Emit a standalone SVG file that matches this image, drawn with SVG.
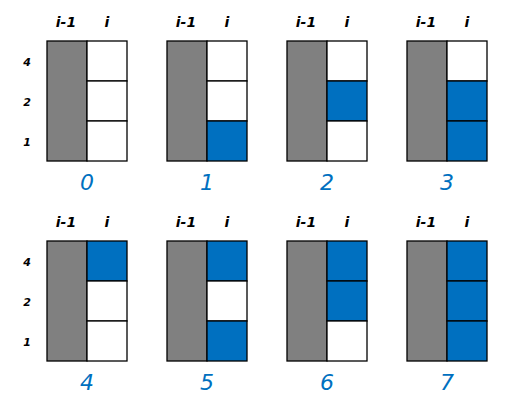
<svg xmlns="http://www.w3.org/2000/svg" width="520" height="406" viewBox="0 0 520 406">
<style>
.g{fill:#808080;stroke:#000;stroke-width:1.3}
.w{fill:#fff;stroke:#000;stroke-width:1.3}
.b{fill:#0070C0;stroke:#000;stroke-width:1.3}
.h{font-family:"DejaVu Sans",sans-serif;font-style:italic;font-weight:bold;font-size:14px;fill:#000;text-anchor:middle}
.r{font-family:"DejaVu Sans",sans-serif;font-style:italic;font-weight:bold;font-size:11px;fill:#000;text-anchor:middle}
.n{font-family:"DejaVu Sans",sans-serif;font-style:italic;font-size:22px;fill:#0070C0;text-anchor:middle}
</style>
<rect width="520" height="406" fill="#fff"/>
<defs>
<g id="lab">
<text class="h" x="19" y="-14">i-1</text>
<text class="h" x="60" y="-14">i</text>
</g>
</defs>
<g id="rowlabels">
<text class="r" x="27" y="66">4</text>
<text class="r" x="27" y="106">2</text>
<text class="r" x="27" y="146">1</text>
<text class="r" x="27" y="266">4</text>
<text class="r" x="27" y="306">2</text>
<text class="r" x="27" y="346">1</text>
</g>
<g id="p0" transform="translate(47,41)">
<use href="#lab"/>
<rect class="g" x="0" y="0" width="40" height="120"/>
<rect class="w" x="40" y="0" width="40" height="40"/>
<rect class="w" x="40" y="40" width="40" height="40"/>
<rect class="w" x="40" y="80" width="40" height="40"/>
<text class="n" x="40" y="149">0</text>
</g>
<g id="p1" transform="translate(167,41)">
<use href="#lab"/>
<rect class="g" x="0" y="0" width="40" height="120"/>
<rect class="w" x="40" y="0" width="40" height="40"/>
<rect class="w" x="40" y="40" width="40" height="40"/>
<rect class="b" x="40" y="80" width="40" height="40"/>
<text class="n" x="40" y="149">1</text>
</g>
<g id="p2" transform="translate(287,41)">
<use href="#lab"/>
<rect class="g" x="0" y="0" width="40" height="120"/>
<rect class="w" x="40" y="0" width="40" height="40"/>
<rect class="b" x="40" y="40" width="40" height="40"/>
<rect class="w" x="40" y="80" width="40" height="40"/>
<text class="n" x="40" y="149">2</text>
</g>
<g id="p3" transform="translate(407,41)">
<use href="#lab"/>
<rect class="g" x="0" y="0" width="40" height="120"/>
<rect class="w" x="40" y="0" width="40" height="40"/>
<rect class="b" x="40" y="40" width="40" height="40"/>
<rect class="b" x="40" y="80" width="40" height="40"/>
<text class="n" x="40" y="149">3</text>
</g>
<g id="p4" transform="translate(47,241)">
<use href="#lab"/>
<rect class="g" x="0" y="0" width="40" height="120"/>
<rect class="b" x="40" y="0" width="40" height="40"/>
<rect class="w" x="40" y="40" width="40" height="40"/>
<rect class="w" x="40" y="80" width="40" height="40"/>
<text class="n" x="40" y="149">4</text>
</g>
<g id="p5" transform="translate(167,241)">
<use href="#lab"/>
<rect class="g" x="0" y="0" width="40" height="120"/>
<rect class="b" x="40" y="0" width="40" height="40"/>
<rect class="w" x="40" y="40" width="40" height="40"/>
<rect class="b" x="40" y="80" width="40" height="40"/>
<text class="n" x="40" y="149">5</text>
</g>
<g id="p6" transform="translate(287,241)">
<use href="#lab"/>
<rect class="g" x="0" y="0" width="40" height="120"/>
<rect class="b" x="40" y="0" width="40" height="40"/>
<rect class="b" x="40" y="40" width="40" height="40"/>
<rect class="w" x="40" y="80" width="40" height="40"/>
<text class="n" x="40" y="149">6</text>
</g>
<g id="p7" transform="translate(407,241)">
<use href="#lab"/>
<rect class="g" x="0" y="0" width="40" height="120"/>
<rect class="b" x="40" y="0" width="40" height="40"/>
<rect class="b" x="40" y="40" width="40" height="40"/>
<rect class="b" x="40" y="80" width="40" height="40"/>
<text class="n" x="40" y="149">7</text>
</g>
</svg>
